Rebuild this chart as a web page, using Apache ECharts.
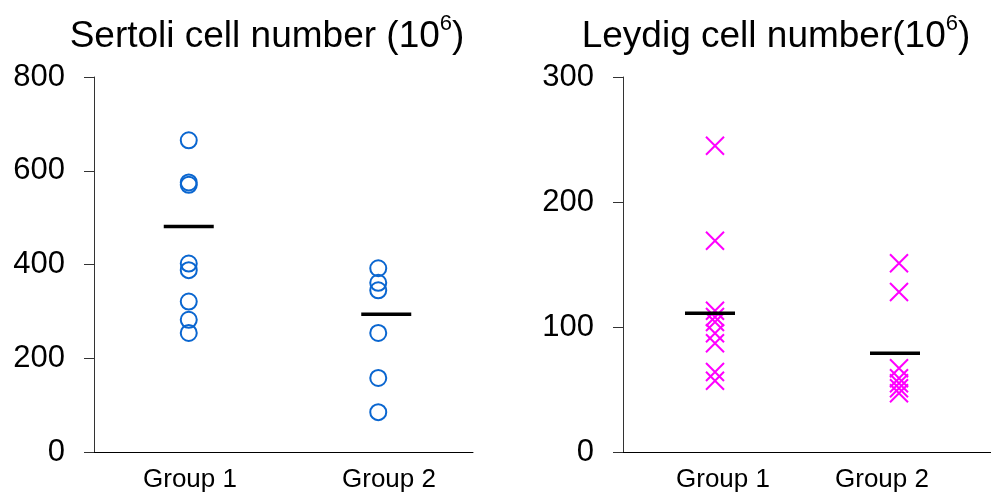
<!DOCTYPE html>
<html>
<head>
<meta charset="utf-8">
<script src="https://cdn.jsdelivr.net/npm/echarts@6/dist/echarts.min.js"></script>
<style>html,body{margin:0;padding:0;background:#fff}#c{width:991px;height:493px}</style>
</head>
<body>
<div id="c"></div>
<script>
// ---- data ----
const categories = ['Group 1', 'Group 2'];
const sertoliG1 = [665, 575, 570, 402, 388, 321, 282, 254];
const sertoliG2 = [392, 361, 345, 254, 158, 85];
const sertoliMeans = [481, 294];
const leydigG1 = [245, 169, 113, 108, 104, 95, 87, 64, 57];
const leydigG2 = [151, 128, 67, 59, 55, 51, 47];
const leydigMeans = [111, 79];
const sertoliTicks = [0, 200, 400, 600, 800];
const leydigTicks = [0, 100, 200, 300];

const FONT = '"Liberation Sans", Arial, Helvetica, sans-serif';
const toPts = (cat, arr) => arr.map(v => [cat, v]);

const crossPath = 'path://M0,0L10,10M10,0L0,10';

const yCommon = (max, interval) => ({
  type: 'value', min: 0, max: max, interval: interval,
  axisLine: { show: true, lineStyle: { color: '#333', width: 1 } },
  axisTick: { show: true, inside: false, length: 10, lineStyle: { color: '#333', width: 1 } },
  axisLabel: { color: '#000', fontSize: 31, fontFamily: FONT, margin: 29 },
  splitLine: { show: false }
});

const titleRich = {
  a: { fontSize: 37, fontFamily: FONT, fontWeight: 'normal', color: '#000', lineHeight: 40, verticalAlign: 'bottom' },
  s: { fontSize: 22, fontFamily: FONT, fontWeight: 'normal', color: '#000', verticalAlign: 'bottom', lineHeight: 22, padding: [0, 0, 20, 0] }
};

const option = {
  animation: false,
  backgroundColor: '#fff',
  title: [
    {
      text: '{a|Sertoli cell number (10}{s|6}{a|)}',
      left: 262, top: 10, textAlign: 'center',
      textStyle: { fontWeight: 'normal', rich: titleRich }
    },
    {
      text: '{a|Leydig cell number(10}{s|6}{a|)}',
      left: 771, top: 10, textAlign: 'center',
      textStyle: { fontWeight: 'normal', rich: titleRich }
    }
  ],
  grid: [
    { left: 94, top: 77, width: 379, height: 375 },
    { left: 623, top: 77, width: 380, height: 375 },
    { left: 90.5, top: 77, width: 398, height: 375 },
    { left: 643.5, top: 77, width: 318, height: 375 }
  ],
  xAxis: [
    { gridIndex: 0, type: 'category', data: categories, boundaryGap: true,
      axisLine: { show: true, lineStyle: { color: '#000', width: 1 } },
      axisTick: { show: false }, axisLabel: { show: false }, splitLine: { show: false } },
    { gridIndex: 1, type: 'category', data: categories, boundaryGap: true,
      axisLine: { show: true, lineStyle: { color: '#000', width: 1 } },
      axisTick: { show: false }, axisLabel: { show: false }, splitLine: { show: false } },
    { gridIndex: 2, type: 'category', data: categories,
      axisLine: { show: false }, axisTick: { show: false },
      axisLabel: { color: '#000', fontSize: 26, fontFamily: FONT, margin: 19, interval: 0 } },
    { gridIndex: 3, type: 'category', data: categories,
      axisLine: { show: false }, axisTick: { show: false },
      axisLabel: { color: '#000', fontSize: 26, fontFamily: FONT, margin: 19, interval: 0 } }
  ],
  yAxis: [
    Object.assign({ gridIndex: 0 }, yCommon(sertoliTicks[sertoliTicks.length - 1], sertoliTicks[1] - sertoliTicks[0])),
    Object.assign({ gridIndex: 1 }, yCommon(leydigTicks[leydigTicks.length - 1], leydigTicks[1] - leydigTicks[0])),
    { gridIndex: 2, type: 'value', min: 0, max: 1, show: false },
    { gridIndex: 3, type: 'value', min: 0, max: 1, show: false }
  ],
  series: [
    { type: 'scatter', xAxisIndex: 0, yAxisIndex: 0,
      data: toPts(categories[0], sertoliG1).concat(toPts(categories[1], sertoliG2)),
      symbol: 'circle', symbolSize: 16,
      itemStyle: { color: 'transparent', borderColor: '#0a66d0', borderWidth: 2, opacity: 1 } },
    { type: 'scatter', xAxisIndex: 0, yAxisIndex: 0, z: 3,
      data: [
        { value: [categories[0], sertoliMeans[0]], symbolOffset: [0, 0] },
        { value: [categories[1], sertoliMeans[1]], symbolOffset: [8, 0] }
      ],
      symbol: 'rect', symbolSize: [50, 3.5],
      itemStyle: { color: '#000', opacity: 1 } },
    { type: 'scatter', xAxisIndex: 1, yAxisIndex: 1,
      data: toPts(categories[0], leydigG1).concat(toPts(categories[1], leydigG2)),
      symbol: crossPath, symbolSize: 18, symbolKeepAspect: true,
      itemStyle: { color: 'transparent', borderColor: '#ff00ff', borderWidth: 2, opacity: 1 } },
    { type: 'scatter', xAxisIndex: 1, yAxisIndex: 1, z: 3,
      data: [
        { value: [categories[0], leydigMeans[0]], symbolOffset: [-5, 0] },
        { value: [categories[1], leydigMeans[1]], symbolOffset: [-4, 0] }
      ],
      symbol: 'rect', symbolSize: [50, 3.5],
      itemStyle: { color: '#000', opacity: 1 } }
  ]
};

const chart = echarts.init(document.getElementById('c'), null, { renderer: 'canvas' });
chart.setOption(option);
</script>
</body>
</html>
